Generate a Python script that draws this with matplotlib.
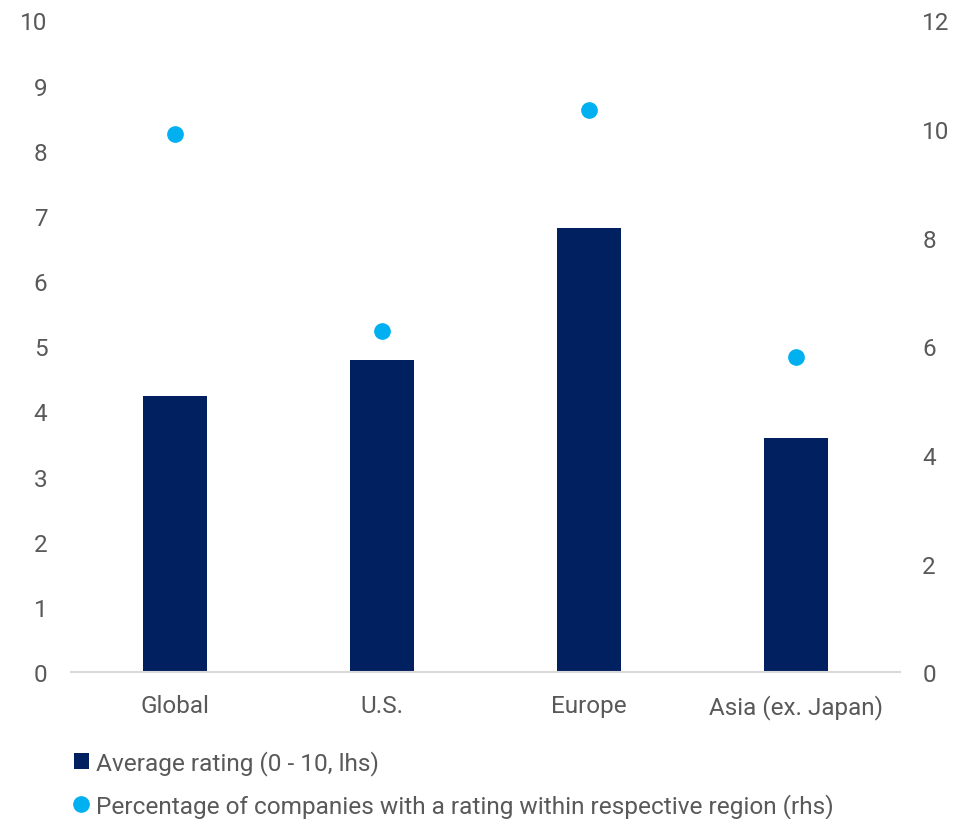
import matplotlib.pyplot as plt
from matplotlib.lines import Line2D
from matplotlib.patches import Patch

plt.rcParams["font.family"] = ["Roboto", "DejaVu Sans"]

regions = ["Global", "U.S.", "Europe", "Asia (ex. Japan)"]
avg_rating = [4.23, 4.79, 6.82, 3.59]
pct_rated = [9.91, 6.29, 10.35, 5.80]

bar_color = "#002060"
dot_color = "#00B0F0"
text_color = "#595959"

fig = plt.figure(figsize=(9.74, 8.2), dpi=100)
ax = fig.add_axes([0.073, 0.179, 0.851, 0.795])
ax2 = ax.twinx()

x = range(len(regions))
ax.bar(x, avg_rating, width=0.31, color=bar_color, zorder=2)
ax2.plot(x, pct_rated, "o", color=dot_color, markersize=11, zorder=3)

ax.set_xlim(-0.5, len(regions) - 0.5)
ax.set_ylim(0, 10)
ax.set_yticks(range(0, 11))
ax2.set_ylim(0, 12)
ax2.set_yticks(range(0, 13, 2))

ax.set_xticks(list(x))
ax.set_xticklabels(regions)

for a in (ax, ax2):
    for s in a.spines.values():
        s.set_visible(False)
    a.tick_params(length=0, labelsize=17.5, labelcolor=text_color)
ax.spines["bottom"].set_visible(True)
ax.spines["bottom"].set_color("#d9d9d9")
ax.spines["bottom"].set_linewidth(1.5)
ax.tick_params(axis="y", pad=17)
ax.tick_params(axis="x", pad=15.5)
ax2.tick_params(axis="y", pad=16)

handles = [
    Patch(facecolor=bar_color, label="Average rating (0 - 10, lhs)"),
    Line2D([], [], marker="o", linestyle="none", color=dot_color, markersize=11,
           label="Percentage of companies with a rating within respective region (rhs)"),
]
fig.legend(handles=handles, loc="upper left", bbox_to_anchor=(0.076, 0.084),
           frameon=False, fontsize=17.6, labelcolor=text_color, handlelength=0.6,
           handleheight=0.6, handletextpad=0.3, labelspacing=0.72, borderaxespad=0,
           borderpad=0)

fig.savefig("out.png", dpi=100)
